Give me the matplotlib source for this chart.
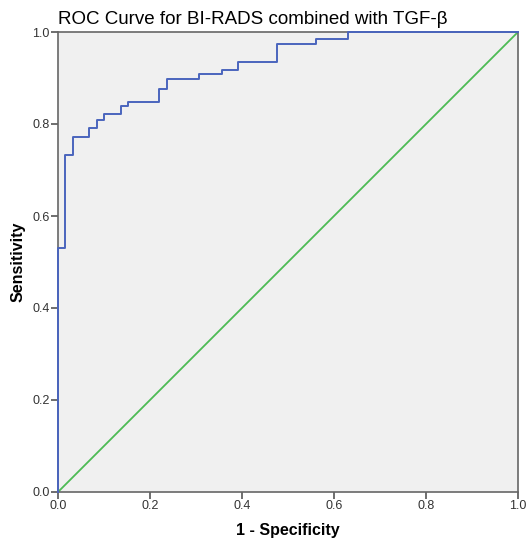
import matplotlib.pyplot as plt

plt.rcParams['font.family'] = ['Liberation Sans', 'DejaVu Sans']

# ROC step curve (1 - specificity, sensitivity)
fpr = [0.0, 0.0, 0.015, 0.033, 0.068, 0.085, 0.101, 0.136, 0.153, 0.220,
       0.238, 0.307, 0.357, 0.391, 0.475, 0.560, 0.630, 1.0]
tpr = [0.0, 0.530, 0.733, 0.771, 0.791, 0.809, 0.821, 0.839, 0.848, 0.877,
       0.897, 0.908, 0.917, 0.935, 0.974, 0.984, 1.0, 1.0]
ref_line = [0.0, 1.0]
ticks = [0.0, 0.2, 0.4, 0.6, 0.8, 1.0]

fig = plt.figure(figsize=(5.29, 5.43), dpi=100)
ax = fig.add_axes([58 / 529, 51 / 543, 460 / 529, 460 / 543])
ax.set_facecolor('#f0f0f0')

ax.plot(ref_line, ref_line, color='#4dbb55', linewidth=1.3)
ax.step(fpr, tpr, where='post', color='#4a65bd', linewidth=1.4, clip_on=False, zorder=5)

ax.set_xlim(0, 1)
ax.set_ylim(0, 1)
ax.set_xticks(ticks)
ax.set_yticks(ticks)
ax.set_xticklabels([f'{t:.1f}' for t in ticks])
ax.set_yticklabels([f'{t:.1f}' for t in ticks])
ax.tick_params(direction='out', length=5, width=1.2, color='#555555',
               labelsize=9, labelcolor='#333333', pad=1)
for s in ax.spines.values():
    s.set_color('#666666')
    s.set_linewidth(1.2)

ax.set_xlabel('1 - Specificity', fontsize=11.5, fontweight='bold', labelpad=8)
ax.set_ylabel('Sensitivity', fontsize=11.5, fontweight='bold', labelpad=5)
ax.set_title('ROC Curve for BI-RADS combined with TGF-β', loc='left',
             fontsize=13.5, pad=6)

fig.savefig('out.png', dpi=100)
